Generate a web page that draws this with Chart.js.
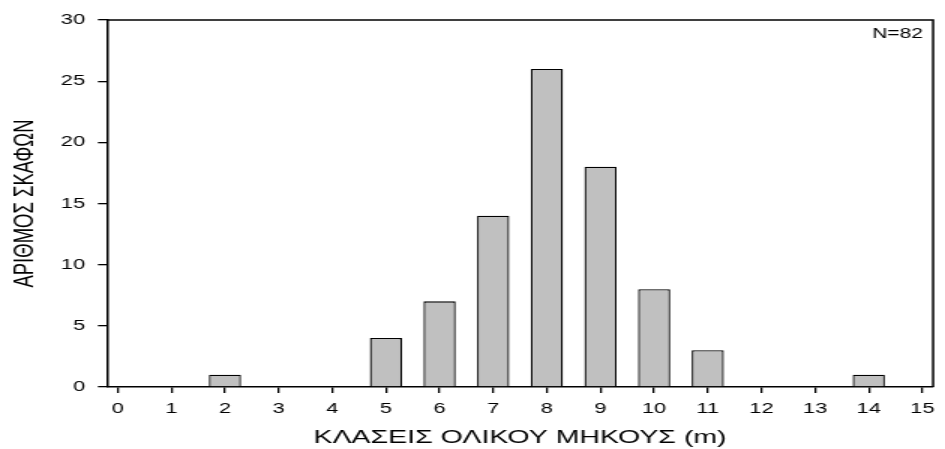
<!DOCTYPE html>
<html>
<head>
<meta charset="utf-8">
<script src="https://cdn.jsdelivr.net/npm/chart.js@4"></script>
<style>
  html, body { margin: 0; padding: 0; background: #fff; overflow: hidden; }
  /* the reference is stretched sideways, so draw narrow and stretch */
  #chart { transform-origin: 0 0; transform: scaleX(1.5); }
</style>
</head>
<body>
<canvas id="chart" width="630" height="449"></canvas>
<script>
const lengthClasses = [0, 1, 2, 3, 4, 5, 6, 7, 8, 9, 10, 11, 12, 13, 14, 15];
const boatCounts = [0, 0, 1, 0, 0, 4, 7, 14, 26, 18, 8, 3, 0, 0, 1, 0];
const xTitle = "ΚΛΑΣΕΙΣ ΟΛΙΚΟΥ ΜΗΚΟΥΣ (m)";
const yTitle = "ΑΡΙΘΜΟΣ ΣΚΑΦΩΝ";
const sampleNote = "N=82";

const FONT = "'Liberation Sans', Arial, sans-serif";

// top/right frame lines and the N= note
const framePlugin = {
    id: "frame",
    afterDraw(chart) {
        const { ctx, chartArea } = chart;
        ctx.save();
        ctx.strokeStyle = "#000";
        ctx.lineWidth = 1.5;
        ctx.beginPath();
        ctx.moveTo(chartArea.left, chartArea.top);
        ctx.lineTo(chartArea.right, chartArea.top);
        ctx.lineTo(chartArea.right, chartArea.bottom);
        ctx.stroke();
        ctx.fillStyle = "#000";
        ctx.font = "14px " + FONT;
        ctx.textAlign = "right";
        ctx.textBaseline = "alphabetic";
        ctx.fillText(sampleNote, chartArea.right - 6.7, chartArea.top + 18);
        ctx.restore();
    }
};

const ctx = document.getElementById("chart").getContext("2d");
new Chart(ctx, {
    type: "bar",
    data: {
        datasets: [{
            data: lengthClasses.map((x, i) => ({ x: x, y: boatCounts[i] })),
            backgroundColor: "#c0c0c0",
            borderColor: "#000",
            borderWidth: 1.3,
            categoryPercentage: 1,
            barPercentage: 0.6
        }]
    },
    options: {
        responsive: false,
        animation: false,
        devicePixelRatio: 1,
        layout: { padding: { top: 20, right: 1.3, left: 0, bottom: 0 } },
        plugins: { legend: { display: false }, tooltip: { enabled: false } },
        scales: {
            x: {
                type: "linear",
                min: -0.2,
                max: 15.2,
                offset: false,
                z: 1,
                afterFit(scale) { scale.height = 62; },
                ticks: {
                    stepSize: 1,
                    includeBounds: false,
                    color: "#000",
                    padding: 7,
                    maxRotation: 0,
                    font: { family: FONT, size: 14.5 }
                },
                grid: { offset: false, drawOnChartArea: false, drawTicks: true, tickLength: 6, color: "#000", lineWidth: 1.3 },
                border: { display: true, color: "#000", width: 1.5 },
                title: {
                    display: true,
                    text: xTitle,
                    color: "#000",
                    padding: { top: 0, bottom: 0 },
                    font: { family: FONT, size: 19 }
                }
            },
            y: {
                min: 0,
                max: 30,
                z: 1,
                afterFit(scale) { scale.width = 71.3; },
                ticks: {
                    stepSize: 5,
                    color: "#000",
                    padding: 8.6,
                    font: { family: FONT, size: 14.5 }
                },
                grid: { drawOnChartArea: false, drawTicks: true, tickLength: 6, color: "#000", lineWidth: 1.3 },
                border: { display: true, color: "#000", width: 1.5 },
                title: {
                    display: true,
                    text: yTitle,
                    color: "#000",
                    padding: { top: 6, bottom: 0 },
                    font: { family: FONT, size: 18.5 }
                }
            }
        }
    },
    plugins: [framePlugin]
});
</script>
</body>
</html>
